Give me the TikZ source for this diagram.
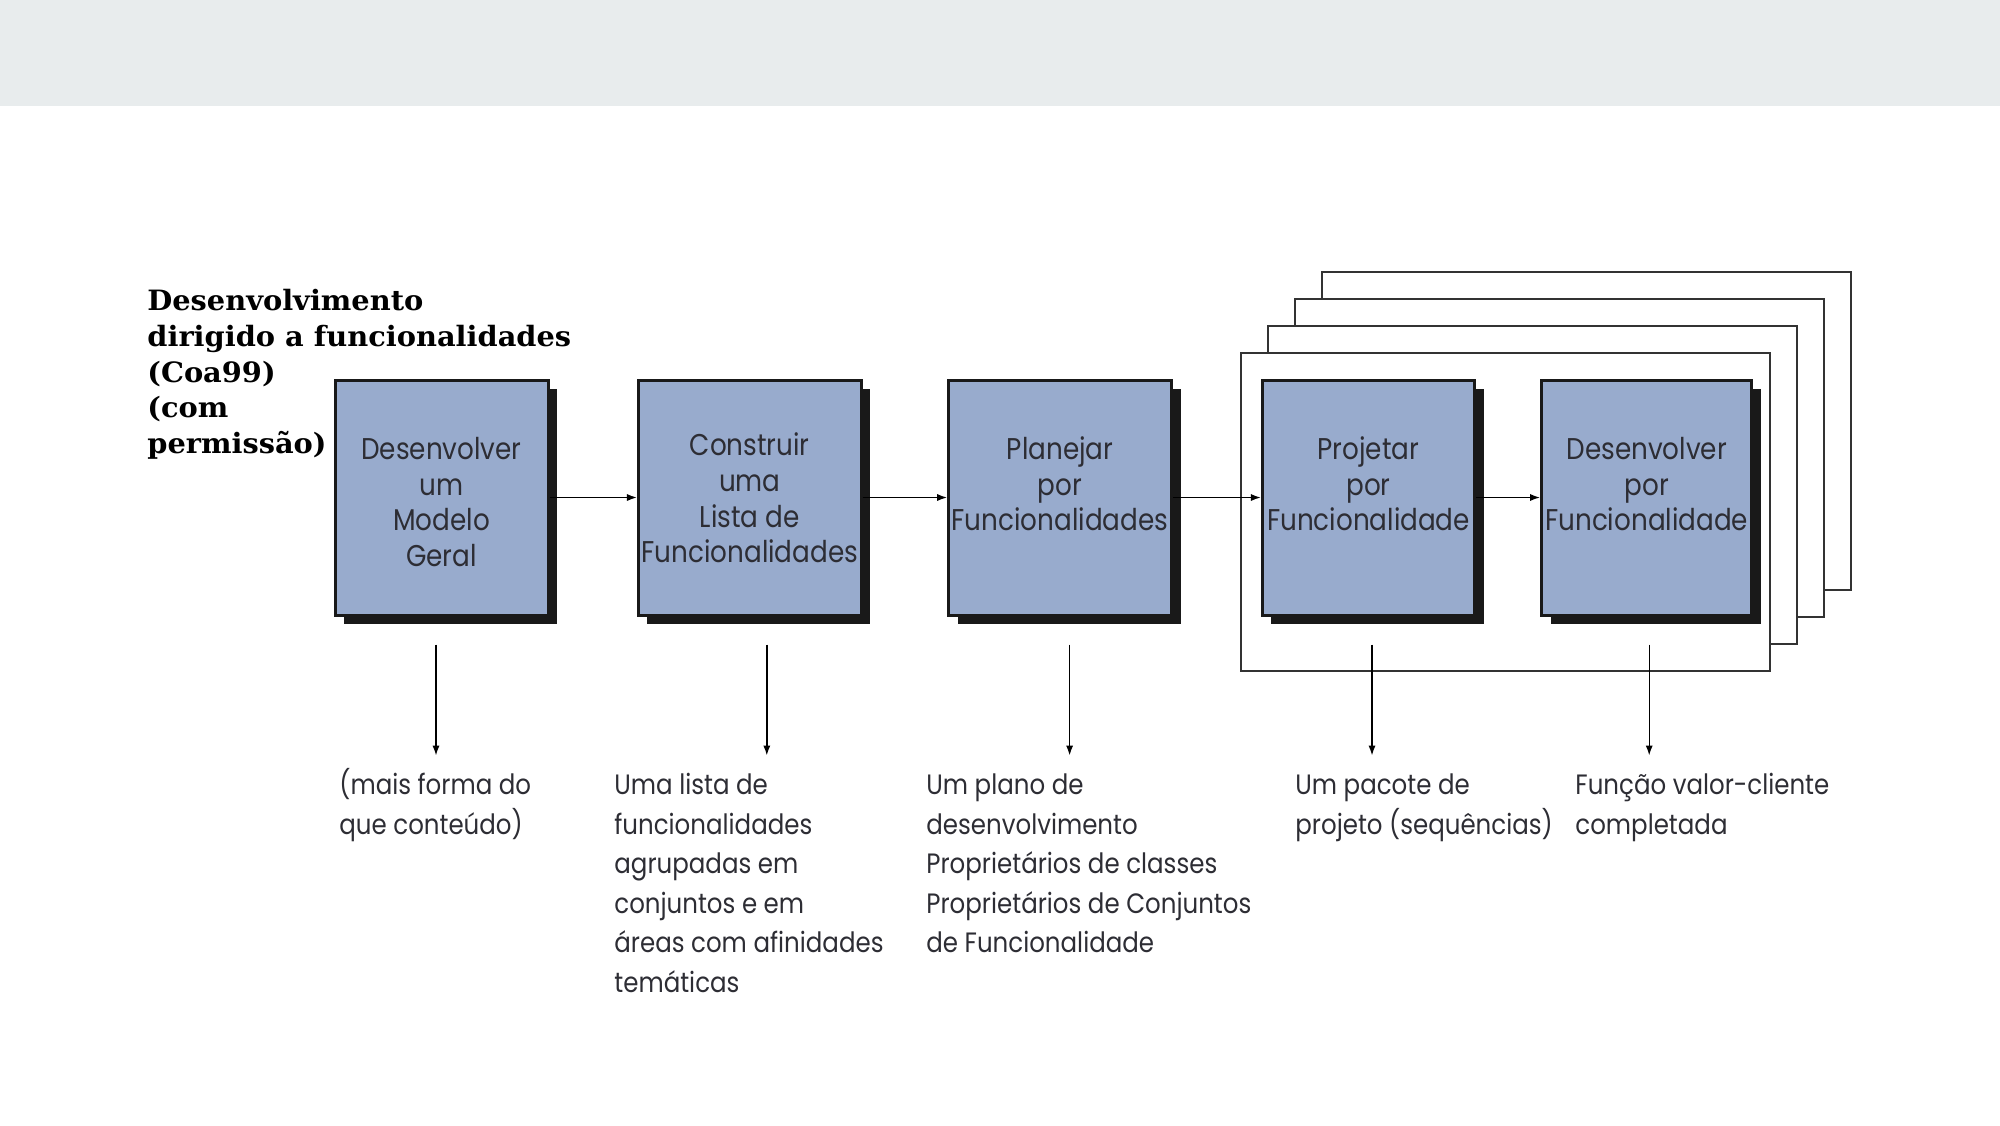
\documentclass[tikz,border=0pt]{standalone}
\usepackage{fontspec}
\setmainfont{Poppins}[FakeStretch=0.875]
\newfontfamily\headfont{DejaVu Serif}[FakeStretch=1.03]
\usetikzlibrary{positioning,calc,shadows,arrows.meta}
\definecolor{boxblue}{RGB}{152,171,205}
\definecolor{bandgray}{RGB}{232,236,237}
\definecolor{inkgray}{RGB}{45,45,52}
\newcommand\tstrut{\rule{0pt}{15.5pt}}

\begin{document}
\begin{tikzpicture}[x=0.5pt,y=-0.5pt,
    fbox/.style={draw=black!90,line width=1.5pt,fill=boxblue,minimum height=117.5pt,
      inner sep=0pt,align=center,text=inkgray,font=\fontsize{15}{17.85}\selectfont,
      drop shadow={shadow xshift=4.5pt,shadow yshift=-4.5pt,fill=black!90,opacity=1}},
    outtxt/.style={anchor=north west,align=left,inner sep=0pt,text=inkgray,
      font=\fontsize{14}{19.75}\selectfont},
    arr/.style={-{Latex[length=5pt,width=3.6pt]},line width=0.7pt},
    frm/.style={draw=black!80,line width=1pt,fill=white}]
    \useasboundingbox (0,0) rectangle (2000,1125);
    \fill[bandgray] (0,0) rectangle (2000,106);
    \node[anchor=north west,align=left,inner sep=0pt,
      font=\headfont\bfseries\fontsize{14}{17.85}\selectfont] (title) at (147,289)
      {Desenvolvimento\\dirigido a funcionalidades\\(Coa99)\\(com\\permissão)};
    \foreach \k in {3,2,1,0}{%
      \begin{scope}[shift={(27*\k,-27*\k)}]
        \draw[frm] (1241,353) rectangle (1770,671);
      \end{scope}
    }
    \node[fbox,minimum width=106.5pt] (dev) at (441.5,497.5) {\tstrut Desenvolver\\um\\Modelo\\Geral};
    \node[fbox,minimum width=111.4pt,right=43.7pt of dev] (lst) {\rule{0pt}{12pt}Construir\\uma\\Lista de\\Funcionalidades};
    \node[fbox,minimum width=111.5pt,right=42.2pt of lst] (plan) {\tstrut Planejar\\por\\Funcionalidades\\\mbox{}};
    \node[fbox,minimum width=106.2pt,right=43.85pt of plan] (proj) {\tstrut Projetar\\por\\Funcionalidade\\\mbox{}};
    \node[fbox,minimum width=105.2pt,right=31.9pt of proj] (dvf) {\tstrut Desenvolver\\por\\Funcionalidade\\\mbox{}};
    \node[outtxt] (o1) at (339,766.7) {\strut(mais forma do\\que conteúdo)};
    \node[outtxt] (o2) at (614,766.7) {\strut Uma lista de\\funcionalidades\\agrupadas em\\conjuntos e em\\áreas com afinidades\\temáticas};
    \node[outtxt] (o3) at (926,766.7) {\strut Um plano de\\desenvolvimento\\Proprietários de classes\\Proprietários de Conjuntos\\de Funcionalidade};
    \node[outtxt] (o4) at (1295,766.7) {\strut Um pacote de\\projeto (sequências)};
    \node[outtxt] (o5) at (1575,766.7) {\strut Função valor-cliente\\completada};
    \foreach \a/\b in {dev/lst,lst/plan,plan/proj,proj/dvf}
      \draw[arr] (\a.east) -- (\b.west);
    \foreach \b/\o/\dx in {dev/o1/-5.5,lst/o2/17,plan/o3/9.5,proj/o4/3.5,dvf/o5/2.5}{%
      \coordinate (s-\b) at ($(\b.south)+(\dx,28)$);
      \draw[arr,shorten >=5.6pt] (s-\b) -- (s-\b |- \o.north);
    }
\end{tikzpicture}
\end{document}
